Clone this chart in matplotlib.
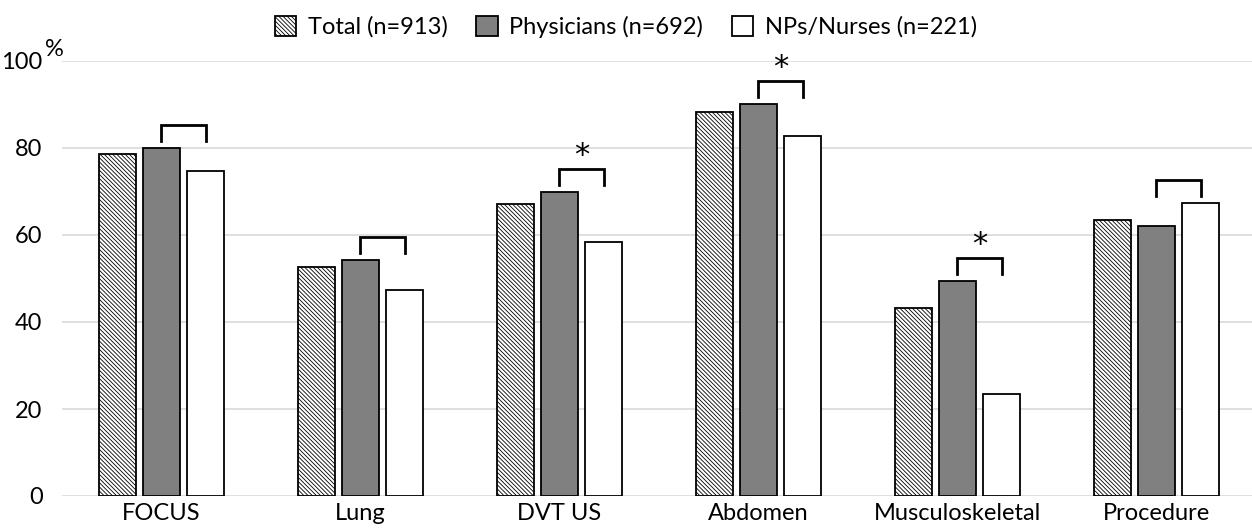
import matplotlib
matplotlib.use("Agg")
import matplotlib.pyplot as plt
import numpy as np

plt.rcParams['font.family'] = ['Lato', 'DejaVu Sans']
plt.rcParams['hatch.color'] = '#3a3a3a'
plt.rcParams['hatch.linewidth'] = 0.6

categories = ["FOCUS", "Lung", "DVT US", "Abdomen", "Musculoskeletal", "Procedure"]
total = [78.6, 52.6, 67.1, 88.3, 43.2, 63.4]
physicians = [80.0, 54.3, 69.9, 90.1, 49.4, 62.1]
nurses = [74.7, 47.4, 58.4, 82.8, 23.4, 67.4]
significant = [False, False, True, True, True, False]

fig = plt.figure(figsize=(12.52, 5.28), dpi=100)
ax = fig.add_axes([62 / 1252, 32 / 528, 1190 / 1252, 435 / 528])

x = np.arange(len(categories))
w = 0.185
step = 0.222

ax.bar(x - step, total, w, facecolor='white', edgecolor='black', linewidth=1.3,
       hatch='\\\\\\\\\\\\\\\\', label="Total (n=913)", zorder=3)
ax.bar(x, physicians, w, facecolor='#808080', edgecolor='black', linewidth=1.3,
       label="Physicians (n=692)", zorder=3)
ax.bar(x + step, nurses, w, facecolor='white', edgecolor='black', linewidth=1.3,
       label="NPs/Nurses (n=221)", zorder=3)

# significance brackets between physicians and nurses
for i in range(len(categories)):
    top = max(physicians[i], nurses[i]) + 5.3
    ax.plot([x[i], x[i], x[i] + step, x[i] + step], [top - 3.7, top, top, top - 3.7],
            color='black', linewidth=2, zorder=4, solid_joinstyle='miter')
    if significant[i]:
        ax.text(x[i] + step / 2, top - 0.3, "*", ha='center', va='bottom', fontsize=22,
                family='DejaVu Sans')

ax.set_ylim(0, 100)
ax.set_xlim(-0.5, 5.48)
ax.set_yticks(range(0, 101, 20))
ax.set_xticks(x)
ax.set_xticklabels(categories, fontsize=17)
ax.tick_params(axis='y', labelsize=17, length=0, pad=14)
ax.tick_params(axis='x', length=0, pad=5)
ax.yaxis.grid(True, color='#d9d9d9', linewidth=1.2, zorder=0)
ax.set_axisbelow(True)
for s in ax.spines.values():
    s.set_visible(False)

fig.text(45 / 1252, 1 - 49 / 528, "%", fontsize=17, ha='left', va='center')

fig.legend(loc='upper center', bbox_to_anchor=(0.5, 1.01), ncol=3, frameon=False,
           fontsize=17, handlelength=0.9, handleheight=0.9, handletextpad=0.5,
           columnspacing=1.2)

fig.savefig("out.png", dpi=100)
